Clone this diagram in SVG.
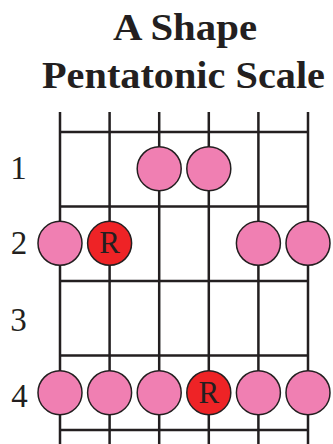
<svg xmlns="http://www.w3.org/2000/svg" width="333" height="444" viewBox="0 0 333 444">
<style>
.title{font-family:"Liberation Serif","Times New Roman",serif;font-weight:bold;font-size:38px;fill:#231f20;text-anchor:middle}
.num{font-family:"Liberation Serif","Times New Roman",serif;font-size:33px;fill:#231f20;text-anchor:middle}
.line{stroke:#231f20;stroke-width:2.5;fill:none}
.dot{fill:#f07fb2;stroke:#231f20;stroke-width:1.5}
.root{fill:#ee2326;stroke:#231f20;stroke-width:1.5}
.r{font-family:"Liberation Serif","Times New Roman",serif;font-size:31px;fill:#231f20;text-anchor:middle}
</style>
<rect width="333" height="444" fill="#ffffff"/>
<g id="title">
<text class="title" x="185" y="40" textLength="144" lengthAdjust="spacingAndGlyphs">A Shape</text>
<text class="title" x="183.5" y="88" textLength="283" lengthAdjust="spacingAndGlyphs">Pentatonic Scale</text>
</g>
<g id="fretboard">
<path class="line" d="M60 112V444M109.6 112V444M159.2 112V444M208.8 112V444M258.4 112V444M308 112V444"/>
<path class="line" d="M60 132H308M60 206.5H308M60 281H308M60 355.5H308M60 430H308"/>
</g>
<g id="labels">
<text class="num" x="18.5" y="179">1</text>
<text class="num" x="19" y="253.5">2</text>
<text class="num" x="18.5" y="331">3</text>
<text class="num" x="19.5" y="406.5">4</text>
</g>
<g id="notes">
<circle class="dot" cx="159.2" cy="168.7" r="22"/>
<circle class="dot" cx="208.8" cy="168.7" r="22"/>
<circle class="dot" cx="60" cy="243.3" r="22"/>
<g id="root1"><circle class="root" cx="109.6" cy="243.3" r="22"/><text class="r" x="109.6" y="252.7">R</text></g>
<circle class="dot" cx="258.4" cy="243.3" r="22"/>
<circle class="dot" cx="308" cy="243.3" r="22"/>
<circle class="dot" cx="60" cy="392.7" r="22"/>
<circle class="dot" cx="109.6" cy="392.7" r="22"/>
<circle class="dot" cx="159.2" cy="392.7" r="22"/>
<g id="root2"><circle class="root" cx="208.8" cy="392.7" r="22"/><text class="r" x="208.8" y="402.6">R</text></g>
<circle class="dot" cx="258.4" cy="392.7" r="22"/>
<circle class="dot" cx="308" cy="392.7" r="22"/>
</g>
</svg>
